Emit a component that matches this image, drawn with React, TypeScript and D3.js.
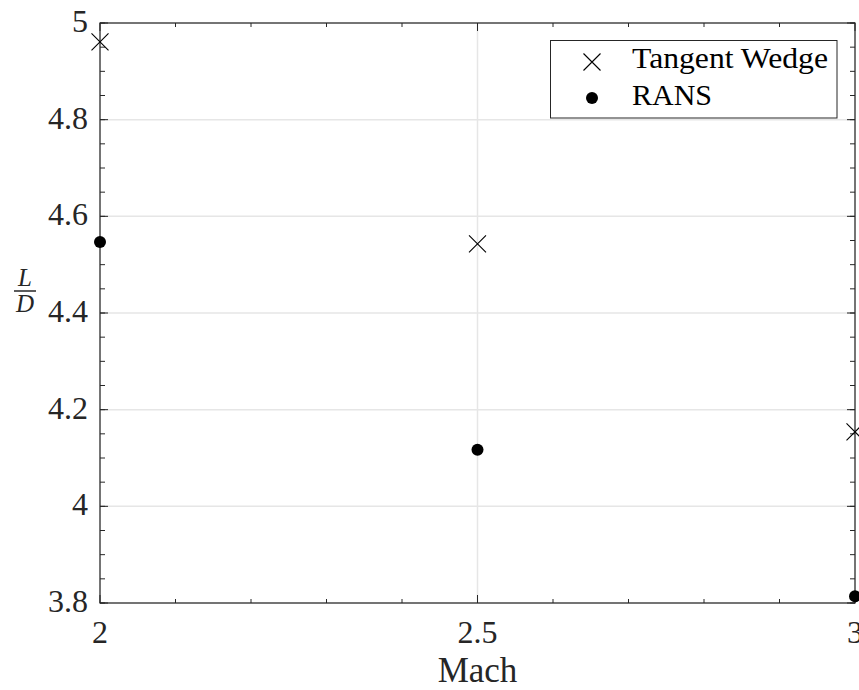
import React from "react";
import * as d3 from "d3";

const machValues = [2, 2.5, 3];
const tangentWedge = [4.961, 4.543, 4.154];
const rans = [4.547, 4.117, 3.814];
const xTicks = [2, 2.5, 3];
const yTicks = [3.8, 4, 4.2, 4.4, 4.6, 4.8, 5];
const legendLabels = ["Tangent Wedge", "RANS"];

const W = 859;
const H = 690;
const M = { left: 100, right: 855, top: 23, bottom: 603 };
const FONT = "'Liberation Serif', 'DejaVu Serif', serif";
const AX = "#262626";
const GRID = "#e6e6e6";

export default function App() {
  const x = d3.scaleLinear().domain([2, 3]).range([M.left, M.right]);
  const y = d3.scaleLinear().domain([3.8, 5]).range([M.bottom, M.top]);
  const xMinor = d3.range(21, 30).map((v) => v / 10);
  const yMinor = d3.range(76, 101).map((v) => v / 20);

  const cross = (cx: number, cy: number, s: number, key: string) => (
    <path
      key={key}
      d={`M${cx - s},${cy - s}L${cx + s},${cy + s}M${cx - s},${cy + s}L${cx + s},${cy - s}`}
      stroke="#000"
      strokeWidth={1.1}
      fill="none"
    />
  );

  return (
    <svg
      width={W}
      height={H}
      style={{ position: "absolute", left: 0, top: 0, background: "#fff" }}
    >
      <rect x={0} y={0} width={W} height={H} fill="#fff" />
      {/* grid */}
      {xTicks.map((t) => (
        <line key={"gx" + t} x1={x(t)} x2={x(t)} y1={M.top} y2={M.bottom} stroke={GRID} strokeWidth={1.5} />
      ))}
      {yTicks.map((t) => (
        <line key={"gy" + t} x1={M.left} x2={M.right} y1={y(t)} y2={y(t)} stroke={GRID} strokeWidth={1.5} />
      ))}
      {/* ticks */}
      {xMinor.map((t) => (
        <g key={"xm" + t}>
          <line x1={x(t)} x2={x(t)} y1={M.bottom} y2={M.bottom - 4} stroke={AX} />
          <line x1={x(t)} x2={x(t)} y1={M.top} y2={M.top + 4} stroke={AX} />
        </g>
      ))}
      {xTicks.map((t) => (
        <g key={"xt" + t}>
          <line x1={x(t)} x2={x(t)} y1={M.bottom} y2={M.bottom - 8} stroke={AX} />
          <line x1={x(t)} x2={x(t)} y1={M.top} y2={M.top + 8} stroke={AX} />
        </g>
      ))}
      {yMinor.map((t) => (
        <g key={"ym" + t}>
          <line x1={M.left} x2={M.left + 5} y1={y(t)} y2={y(t)} stroke={AX} />
          <line x1={M.right} x2={M.right - 5} y1={y(t)} y2={y(t)} stroke={AX} />
        </g>
      ))}
      {yTicks.map((t) => (
        <g key={"yt" + t}>
          <line x1={M.left} x2={M.left + 8} y1={y(t)} y2={y(t)} stroke={AX} />
          <line x1={M.right} x2={M.right - 8} y1={y(t)} y2={y(t)} stroke={AX} />
        </g>
      ))}
      {/* axes box */}
      <rect
        x={M.left}
        y={M.top}
        width={M.right - M.left}
        height={M.bottom - M.top}
        fill="none"
        stroke={AX}
        strokeWidth={1.2}
      />
      {/* tick labels */}
      {xTicks.map((t) => (
        <text
          key={"xl" + t}
          x={x(t)}
          y={643}
          textAnchor="middle"
          fontFamily={FONT}
          fontSize={32}
          fill={AX}
        >
          {String(t)}
        </text>
      ))}
      {yTicks.map((t) => (
        <text
          key={"yl" + t}
          x={88}
          y={y(t) + 9}
          textAnchor="end"
          fontFamily={FONT}
          fontSize={32}
          fill={AX}
        >
          {String(t)}
        </text>
      ))}
      {/* axis labels */}
      <text x={x(2.5)} y={682} textAnchor="middle" fontFamily={FONT} fontSize={35} fill={AX}>
        Mach
      </text>
      <g fontFamily={FONT} fontStyle="italic" fontSize={25} fill={AX}>
        <text x={25} y={286} textAnchor="middle">L</text>
        <line x1={14} x2={36} y1={291} y2={291} stroke={AX} strokeWidth={1.5} />
        <text x={25} y={312} textAnchor="middle">D</text>
      </g>
      {/* data */}
      {machValues.map((m, i) => cross(x(m), y(tangentWedge[i]), 8.5, "tw" + i))}
      {machValues.map((m, i) => (
        <circle key={"r" + i} cx={x(m)} cy={y(rans[i])} r={6} fill="#000" />
      ))}
      {/* legend */}
      <rect x={550.5} y={40.5} width={286.5} height={77.5} fill="#fff" stroke={AX} strokeWidth={1} />
      {cross(592, 62, 8.5, "lg0")}
      <circle cx={592} cy={98} r={6} fill="#000" />
      <text
        x={632}
        y={68}
        fontFamily={FONT}
        fontSize={30}
        fill="#000"
        textLength={196}
        lengthAdjust="spacingAndGlyphs"
      >
        {legendLabels[0]}
      </text>
      <text
        x={632}
        y={105}
        fontFamily={FONT}
        fontSize={30}
        fill="#000"
        textLength={80}
        lengthAdjust="spacingAndGlyphs"
      >
        {legendLabels[1]}
      </text>
    </svg>
  );
}
